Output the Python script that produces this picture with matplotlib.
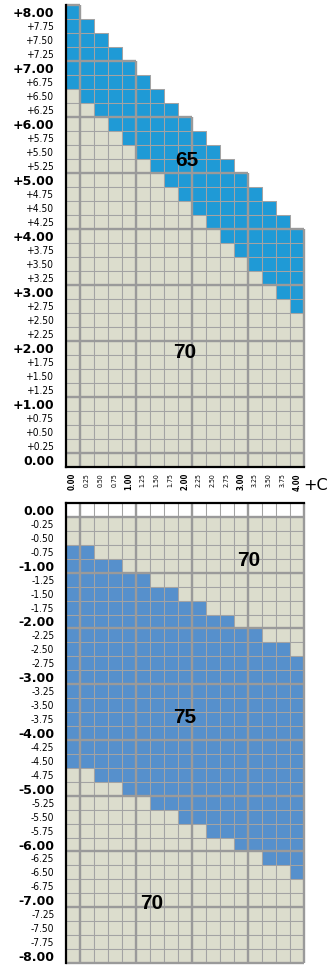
import matplotlib
matplotlib.use('Agg')
import matplotlib.pyplot as plt
from matplotlib.patches import Rectangle
from matplotlib.collections import PatchCollection, LineCollection
import matplotlib.transforms as mtransforms

# Chart data
cyl_labels = ['0.00', '0.25', '0.50', '0.75', '1.00', '1.25', '1.50', '1.75', '2.00',
              '2.25', '2.50', '2.75', '3.00', '3.25', '3.50', '3.75', '4.00']

plus_labels = ['+8.00', '+7.75', '+7.50', '+7.25', '+7.00', '+6.75', '+6.50', '+6.25',
               '+6.00', '+5.75', '+5.50', '+5.25', '+5.00', '+4.75', '+4.50', '+4.25',
               '+4.00', '+3.75', '+3.50', '+3.25', '+3.00', '+2.75', '+2.50', '+2.25',
               '+2.00', '+1.75', '+1.50', '+1.25', '+1.00', '+0.75', '+0.50', '+0.25', '0.00']
# number of cylinder cells available in each plus row
plus_row_len = [1, 2, 3, 4, 5, 6, 7, 8, 9, 10, 11, 12, 13, 14, 15, 16,
                17, 17, 17, 17, 17, 17, 17, 17, 17, 17, 17, 17, 17, 17, 17, 17, 17]
# first cylinder column in the 1.65 zone (None = no 1.65 cells)
plus_65_from = [0, 0, 0, 0, 0, 0, 1, 2, 3, 4, 5, 6, 7, 8, 9, 10, 11, 12, 13, 14, 15, 16,
                None, None, None, None, None, None, None, None, None, None, None]

minus_labels = ['0.00', '-0.25', '-0.50', '-0.75', '-1.00', '-1.25', '-1.50', '-1.75',
                '-2.00', '-2.25', '-2.50', '-2.75', '-3.00', '-3.25', '-3.50', '-3.75',
                '-4.00', '-4.25', '-4.50', '-4.75', '-5.00', '-5.25', '-5.50', '-5.75',
                '-6.00', '-6.25', '-6.50', '-6.75', '-7.00', '-7.25', '-7.50', '-7.75', '-8.00']
# 1.75 zone per minus row: first and last cylinder column (None = no 1.75 cells)
minus_75_from = [None, None, None, 0, 0, 0, 0, 0, 0, 0, 0, 0, 0, 0, 0, 0, 0, 0, 0,
                 2, 4, 6, 8, 10, 12, 14, 16, None, None, None, None, None, None]
minus_75_to = [None, None, None, 1, 3, 5, 7, 9, 11, 13, 15, 16, 16, 16, 16, 16, 16, 16, 16,
               16, 16, 16, 16, 16, 16, 16, 16, None, None, None, None, None, None]
minus_plano_rows = [0]

BLUE_65 = '#1f9ad6'
BLUE_75 = '#5690cc'
CELL = '#dcddcd'
LINE = '#a3a3a3'
THICK = '#9a9a9a'

W, H = 329, 965
fig = plt.figure(figsize=(W / 100, H / 100), dpi=100)


def px_axes(left, top, right, bottom):
    return fig.add_axes([left / W, 1 - bottom / H, (right - left) / W, (bottom - top) / H])


def style_axes(ax, labels, keep):
    ax.set_xlim(0, len(cyl_labels))
    ax.set_ylim(len(labels), 0)
    ax.set_facecolor('none')
    for side in ['left', 'right', 'top', 'bottom']:
        ax.spines[side].set_visible(side in keep)
        ax.spines[side].set_linewidth(1.6)
        ax.spines[side].set_color('black')
        ax.spines[side].set_zorder(5)
    ax.set_xticks([])
    ax.set_yticks([i + 0.5 for i in range(len(labels))])
    ax.set_yticklabels(labels)
    ax.tick_params(axis='y', length=0, pad=8)
    for lab in ax.get_yticklabels():
        txt = lab.get_text()
        if txt.endswith('.00'):
            lab.set_fontweight('bold')
            lab.set_fontsize(9)
            lab.set_family('DejaVu Sans')
        else:
            lab.set_fontsize(7.3)
            lab.set_family('DejaVu Sans')
            lab.set_fontstretch('condensed')


def draw_cells(ax, cells):
    patches = [Rectangle((k, i), 1, 1) for i, k, _ in cells]
    pc = PatchCollection(patches, facecolor=[c for _, _, c in cells], edgecolor=LINE,
                         linewidth=0.75, zorder=1)
    ax.add_collection(pc)


def draw_thick(ax, segs):
    lc = LineCollection(segs, colors=THICK, linewidths=1.7, zorder=2, clip_on=False,
                        capstyle='butt')
    ax.add_collection(lc)


whole_cols = [k for k, c in enumerate(cyl_labels) if c.endswith('.00')]

# ---- plus panel (1.65 / 1.70) ----
ax1 = px_axes(65.5, 5, 304, 467)
style_axes(ax1, plus_labels, ['left', 'bottom'])
cells = []
for i, n in enumerate(plus_row_len):
    for k in range(n):
        blue = plus_65_from[i] is not None and k >= plus_65_from[i]
        cells.append((i, k, BLUE_65 if blue else CELL))
draw_cells(ax1, cells)
segs = []
for i, lab in enumerate(plus_labels):
    if lab.endswith('.00'):
        segs.append([(0, i), (plus_row_len[i], i)])
for k in whole_cols:
    first = min(i for i, n in enumerate(plus_row_len) if n > k)
    segs.append([(k + 1, first), (k + 1, len(plus_labels))])
draw_thick(ax1, segs)

blend = mtransforms.blended_transform_factory(ax1.transData, ax1.transAxes)
for k, lab in enumerate(cyl_labels):
    whole = lab.endswith('.00')
    ax1.text(k + 0.5, -0.013, lab, transform=blend, rotation=90, ha='center', va='top',
             fontsize=5.6 if whole else 5.0, fontweight='bold' if whole else 'normal',
             family='DejaVu Sans', fontstretch='condensed')
fig.text(303 / W, 1 - 485 / H, '+C', fontsize=11.5, ha='left', va='center',
         family='DejaVu Sans')

ax1.text(8.66, 11.1, '65', fontsize=15, fontweight='bold', ha='center', va='center',
         family='Liberation Sans', zorder=6)
ax1.text(8.52, 24.8, '70', fontsize=15, fontweight='bold', ha='center', va='center',
         family='Liberation Sans', zorder=6)

# ---- minus panel (1.70 / 1.75) ----
ax2 = px_axes(65.5, 503, 304, 963)
style_axes(ax2, minus_labels, ['left', 'top'])
cells = []
for i in range(len(minus_labels)):
    for k in range(len(cyl_labels)):
        if i in minus_plano_rows:
            col = 'white'
        elif minus_75_from[i] is not None and minus_75_from[i] <= k <= minus_75_to[i]:
            col = BLUE_75
        else:
            col = CELL
        cells.append((i, k, col))
draw_cells(ax2, cells)
segs = []
for i, lab in enumerate(minus_labels):
    if lab.endswith('.00'):
        segs.append([(0, i + 1), (len(cyl_labels), i + 1)])
for k in whole_cols:
    segs.append([(k + 1, 0), (k + 1, len(minus_labels))])
draw_thick(ax2, segs)

ax2.text(13.08, 4.16, '70', fontsize=15, fontweight='bold', ha='center', va='center',
         family='Liberation Sans', zorder=6)
ax2.text(8.52, 15.42, '75', fontsize=15, fontweight='bold', ha='center', va='center',
         family='Liberation Sans', zorder=6)
ax2.text(6.13, 28.74, '70', fontsize=15, fontweight='bold', ha='center', va='center',
         family='Liberation Sans', zorder=6)

fig.savefig('out.png', dpi=100)
